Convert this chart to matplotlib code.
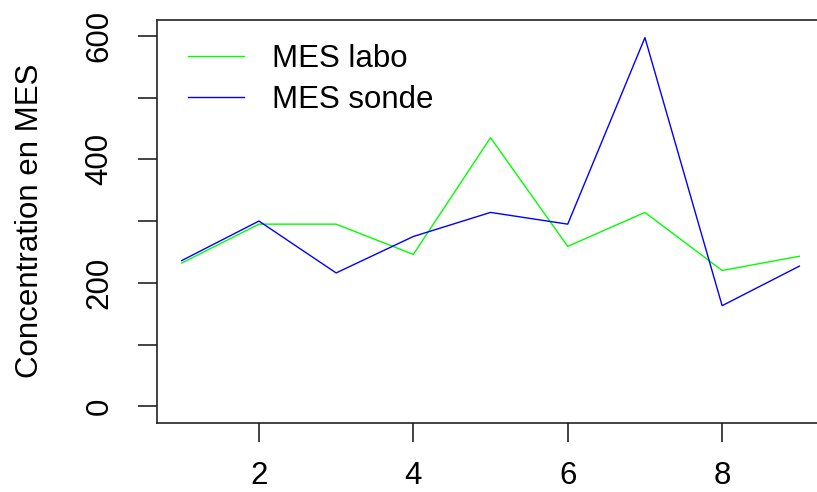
import matplotlib
matplotlib.use("Agg")
import matplotlib.pyplot as plt
import numpy as np

plt.rcParams['font.family'] = ['Liberation Sans', 'DejaVu Sans']

# mesures de MES par prélèvement
echantillon = np.arange(1, 10)
mes_labo = [232, 295, 295, 246, 435, 259, 314, 220, 243]
mes_sonde = [236, 300, 216, 275, 314, 295, 597, 163, 227]

fs = 22.5

fig = plt.figure(figsize=(8.17, 4.92), dpi=100)
ax = fig.add_axes([0.1922, 0.1402, 0.8164, 0.8191])

ax.plot(echantillon, mes_labo, color='#00FF00', lw=1.0, label='MES labo')
ax.plot(echantillon, mes_sonde, color='#0000FF', lw=1.0, label='MES sonde')

ax.set_xlim(0.68, 9.32)
ax.set_ylim(-27, 625.5)
ax.set_xticks([2, 4, 6, 8])
ax.set_yticks([0, 100, 200, 300, 400, 500, 600])
ax.set_yticklabels(['0', '', '200', '', '400', '', '600'])

for sp in ax.spines.values():
    sp.set_linewidth(1.2)
    sp.set_color('#222222')
ax.tick_params(axis='both', length=13.5, width=1.2, labelsize=fs, color='#222222')
ax.tick_params(axis='x', pad=14)
ax.tick_params(axis='y', pad=17)
for lab in ax.get_yticklabels():
    lab.set_rotation(90)
    lab.set_va('center')

fig.text(30 / 817, 1 - 221 / 492, 'Concentration en MES', rotation=90,
         ha='center', va='center', fontsize=fs)

ax.legend(loc='upper left', bbox_to_anchor=(0.046, 0.94), frameon=False,
          fontsize=fs, handlelength=1.8, handletextpad=0.9,
          labelspacing=0.35, borderpad=0, borderaxespad=0)

fig.savefig('out.png', dpi=100)
